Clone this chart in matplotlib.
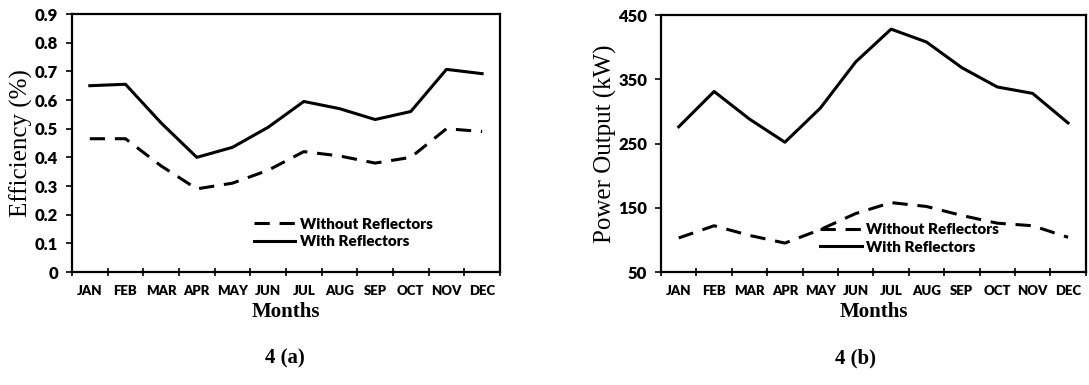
import numpy as np
import matplotlib.pyplot as plt
from matplotlib.ticker import FixedLocator, NullFormatter, FixedFormatter

months = ['JAN', 'FEB', 'MAR', 'APR', 'MAY', 'JUN',
          'JUL', 'AUG', 'SEP', 'OCT', 'NOV', 'DEC']

# efficiency (%)
eff_without = [0.465, 0.465, 0.37, 0.29, 0.31, 0.355, 0.42, 0.405, 0.38, 0.40, 0.50, 0.49]
eff_with = [0.65, 0.655, 0.52, 0.40, 0.435, 0.505, 0.595, 0.57, 0.532, 0.56, 0.707, 0.692]

# power output (kW)
pow_without = [103, 122, 107, 95, 116, 141, 158, 152, 138, 126, 122, 104]
pow_with = [276, 331, 288, 252, 305, 377, 428, 408, 368, 338, 328, 282]

eff_ticks = [0, 0.1, 0.2, 0.3, 0.4, 0.5, 0.6, 0.7, 0.8, 0.9]
eff_tick_labels = ['0', '0.1', '0.2', '0.3', '0.4', '0.5', '0.6', '0.7', '0.8', '0.9']
pow_ticks = [50, 150, 250, 350, 450]

SANS = ['Lato', 'DejaVu Sans']
SERIF = ['Liberation Serif', 'DejaVu Serif']


def style_axes(ax, ylabel):
    """
    common excel-like look
    """
    x = np.arange(len(months))
    ax.set_xlim(-0.5, len(months) - 0.5)
    ax.xaxis.set_major_locator(FixedLocator(np.arange(-0.5, len(months), 1.0)))
    ax.xaxis.set_major_formatter(NullFormatter())
    ax.xaxis.set_minor_locator(FixedLocator(x))
    ax.xaxis.set_minor_formatter(FixedFormatter(months))
    ax.tick_params(axis='x', which='major', direction='inout', length=6, width=1.2)
    ax.tick_params(axis='x', which='minor', length=0, pad=9)
    ax.tick_params(axis='y', direction='out', length=4, width=1.2, pad=6)
    for lab in ax.get_xticklabels(minor=True):
        lab.set_family(SANS)
        lab.set_fontweight('heavy')
        lab.set_fontsize(9.5)
    for lab in ax.get_yticklabels():
        lab.set_family(SANS)
        lab.set_fontweight('heavy')
        lab.set_fontsize(12)
    for sp in ax.spines.values():
        sp.set_linewidth(1.6)
        sp.set_color('k')
    ax.set_xlabel('Months', family=SERIF, fontweight='bold', fontsize=15, labelpad=4)
    ax.set_ylabel(ylabel, family=SERIF, fontsize=18, labelpad=1)


fig = plt.figure(figsize=(10.89, 3.85), dpi=100)

ax1 = fig.add_axes([0.0661, 0.2935, 0.393, 0.670])
x = np.arange(len(months))
ax1.plot(x, eff_without, color='k', lw=2.2, ls=(0, (5, 3.2)), label='Without Reflectors')
ax1.plot(x, eff_with, color='k', lw=2.2, label='With Reflectors')
ax1.set_ylim(0, 0.9)
ax1.set_yticks(eff_ticks)
ax1.set_yticklabels(eff_tick_labels)
style_axes(ax1, 'Efficiency (%)')
ax1.legend(loc='upper left', bbox_to_anchor=(0.425, 0.21), frameon=False,
           borderpad=0, borderaxespad=0, handlelength=2.7, handletextpad=0.3,
           labelspacing=0.3, prop={'family': SANS, 'weight': 'heavy', 'size': 11})

ax2 = fig.add_axes([0.607, 0.2935, 0.390, 0.6675])
ax2.plot(x, pow_without, color='k', lw=2.2, ls=(0, (5, 3.2)), label='Without Reflectors')
ax2.plot(x, pow_with, color='k', lw=2.2, label='With Reflectors')
ax2.set_ylim(50, 450)
ax2.set_yticks(pow_ticks)
style_axes(ax2, 'Power Output (kW)')
ax2.legend(loc='upper left', bbox_to_anchor=(0.375, 0.19), frameon=False,
           borderpad=0, borderaxespad=0, handlelength=2.7, handletextpad=0.3,
           labelspacing=0.3, prop={'family': SANS, 'weight': 'heavy', 'size': 11})

fig.text(0.262, 0.07, '4 (a)', family=SERIF, fontweight='bold', fontsize=15, ha='center', va='center')
fig.text(0.786, 0.07, '4 (b)', family=SERIF, fontweight='bold', fontsize=15, ha='center', va='center')

fig.savefig('out.png', dpi=100, facecolor='white')
